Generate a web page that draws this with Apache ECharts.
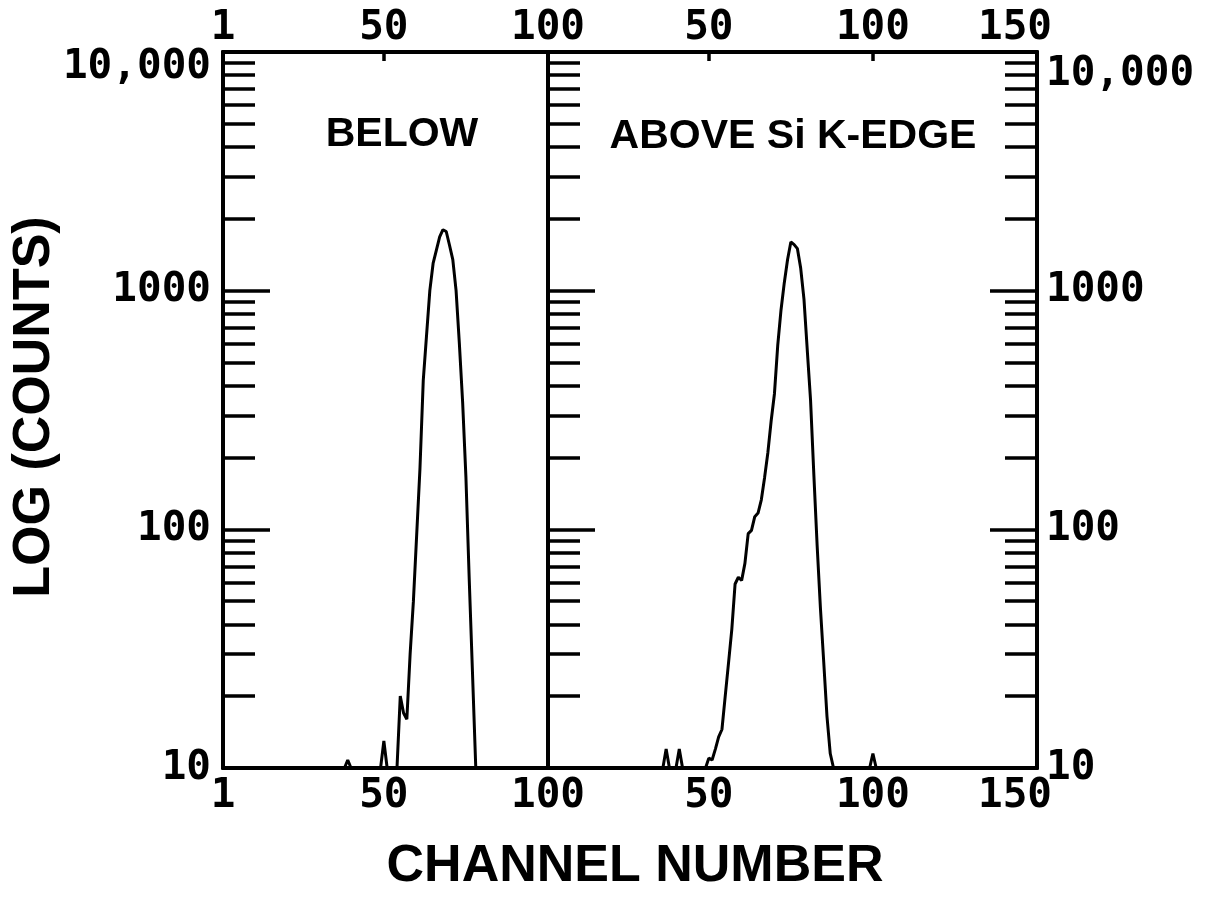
<!DOCTYPE html>
<html>
<head>
<meta charset="utf-8">
<script src="https://cdn.jsdelivr.net/npm/echarts@6/dist/echarts.min.js"></script>
<style>
html,body{margin:0;padding:0;background:#fff;}
#chart{width:1209px;height:920px;}
</style>
</head>
<body>
<div id="chart"></div>
<script>
// ---- data: "BELOW" panel (channel, counts) ----
const belowChannels = [1, 38, 39, 40, 49, 50, 51, 54, 55, 56, 57, 58, 59, 60, 61, 62, 63, 64, 65, 66, 67, 68, 69, 70, 71, 72, 73, 74, 75, 76, 77, 78, 100];
const belowCounts   = [10, 10, 10.8, 10, 10, 13, 10, 10, 20, 17, 16, 30, 50, 95, 180, 420, 650, 1000, 1300, 1480, 1680, 1800, 1770, 1550, 1350, 1000, 600, 340, 165, 62, 25, 10, 10];

// ---- data: "ABOVE Si K-EDGE" panel (channel, counts) ----
const aboveChannels = [1, 36, 37, 38, 40, 41, 42, 49, 50, 51, 52, 53, 54, 55, 56, 57, 58, 59, 60, 61, 62, 63, 64, 65, 66, 67, 68, 69, 70, 71, 72, 73, 74, 75, 76, 77, 78, 79, 80, 81, 82, 83, 84, 85, 86, 87, 88, 99, 100, 101, 150];
const aboveCounts   = [10, 10, 12, 10, 10, 12, 10, 10, 11, 10.8, 12, 13.5, 14.5, 20, 27.5, 38, 59, 63, 61, 72, 96, 99, 113, 117, 133, 165, 210, 285, 370, 590, 830, 1080, 1350, 1600, 1560, 1500, 1240, 920, 564, 348, 170, 86, 47, 28, 16.5, 11.5, 10, 10, 11.5, 10, 10];

// ---- tick labels / tick positions ----
const leftXLabels = [1, 50, 100];
const rightXLabels = [50, 100, 150];
const leftTopTicks = [50];
const rightTopTicks = [50, 100];
const yMajorValues = [10, 100, 1000, 10000];
const yMinorValues = [20, 30, 40, 50, 60, 70, 80, 90, 200, 300, 400, 500, 600, 700, 800, 900, 2000, 3000, 4000, 5000, 6000, 7000, 8000, 9000];
const panelTitles = ['BELOW', 'ABOVE Si K-EDGE'];
const xTitle = 'CHANNEL NUMBER';
const yTitle = 'LOG (COUNTS)';

const LBL = {fontFamily: 'DejaVu Sans Mono', fontWeight: 'bold', fontSize: 41, color: '#000'};
const LINE = {show: true, lineStyle: {color: '#000', width: 4}};
const TICK_STYLE = {color: '#000', width: 3.5};

function fmtY(v) {
  if (v >= 10000) return '{t|10,000}';
  return String(v);
}

function xAx(grid, pos, min, max, labels, ticks, margin) {
  return {
    gridIndex: grid, type: 'value', min: min, max: max, position: pos,
    axisLine: LINE,
    axisTick: ticks ? {show: true, inside: true, length: 9, lineStyle: TICK_STYLE, customValues: ticks} : {show: false},
    splitLine: {show: false},
    axisLabel: Object.assign({}, LBL, {
      margin: margin, customValues: labels,
      formatter: v => (v === 150 ? '{r|150}' : String(v)),
      rich: {r: Object.assign({}, LBL, {padding: [0, 44, 0, 0]})}
    })
  };
}

function yAx(grid, pos, vals, len, showLabel, shift, margin) {
  return {
    gridIndex: grid, type: 'log', logBase: 10, min: 10, max: 10000, position: pos,
    axisLine: LINE,
    axisTick: {show: true, inside: true, length: len, lineStyle: TICK_STYLE, customValues: vals},
    minorTick: {show: false},
    splitLine: {show: false},
    axisLabel: showLabel ? Object.assign({}, LBL, {
      margin: margin, customValues: yMajorValues, formatter: fmtY,
      rich: {t: Object.assign({}, LBL, {padding: [shift, 0, 0, 0]})}
    }) : {show: false}
  };
}

function pairs(xs, ys) { return xs.map((x, i) => [x, ys[i]]); }

const chart = echarts.init(document.getElementById('chart'), null, {renderer: 'canvas'});
chart.setOption({
  backgroundColor: '#fff',
  animation: false,
  grid: [
    {left: 223, top: 52, width: 325, height: 716},
    {left: 548, top: 52, width: 489, height: 716}
  ],
  xAxis: [
    xAx(0, 'bottom', 1, 100, leftXLabels, null, 8),
    xAx(0, 'top', 1, 100, leftXLabels, leftTopTicks, 3),
    xAx(1, 'bottom', 1, 150, rightXLabels, null, 8),
    xAx(1, 'top', 1, 150, rightXLabels, rightTopTicks, 3)
  ],
  yAxis: [
    yAx(0, 'left', yMajorValues, 47, true, 30, 12),
    yAx(0, 'left', yMinorValues, 32, false),
    yAx(1, 'left', yMajorValues, 47, false),
    yAx(1, 'left', yMinorValues, 32, false),
    yAx(1, 'right', yMajorValues, 47, true, 44, 9),
    yAx(1, 'right', yMinorValues, 32, false)
  ],
  series: [
    {type: 'line', xAxisIndex: 0, yAxisIndex: 0, data: pairs(belowChannels, belowCounts),
     showSymbol: false, silent: true, lineStyle: {color: '#000', width: 3}},
    {type: 'line', xAxisIndex: 2, yAxisIndex: 2, data: pairs(aboveChannels, aboveCounts),
     showSymbol: false, silent: true, lineStyle: {color: '#000', width: 3}}
  ],
  graphic: [
    {type: 'text', x: 402, y: 135, style: {text: panelTitles[0], fill: '#000', fontFamily: 'Liberation Sans', fontWeight: 'bold', fontSize: 41, align: 'center', verticalAlign: 'middle'}},
    {type: 'text', x: 793, y: 137, style: {text: panelTitles[1], fill: '#000', fontFamily: 'Liberation Sans', fontWeight: 'bold', fontSize: 41, align: 'center', verticalAlign: 'middle'}},
    {type: 'text', x: 635, y: 867, style: {text: xTitle, fill: '#000', fontFamily: 'Liberation Sans', fontWeight: 'bold', fontSize: 52, align: 'center', verticalAlign: 'middle'}},
    {type: 'text', x: 35, y: 407, rotation: Math.PI / 2, style: {text: yTitle, fill: '#000', fontFamily: 'Liberation Sans', fontWeight: 'bold', fontSize: 52, align: 'center', verticalAlign: 'middle'}}
  ]
});
</script>
</body>
</html>
